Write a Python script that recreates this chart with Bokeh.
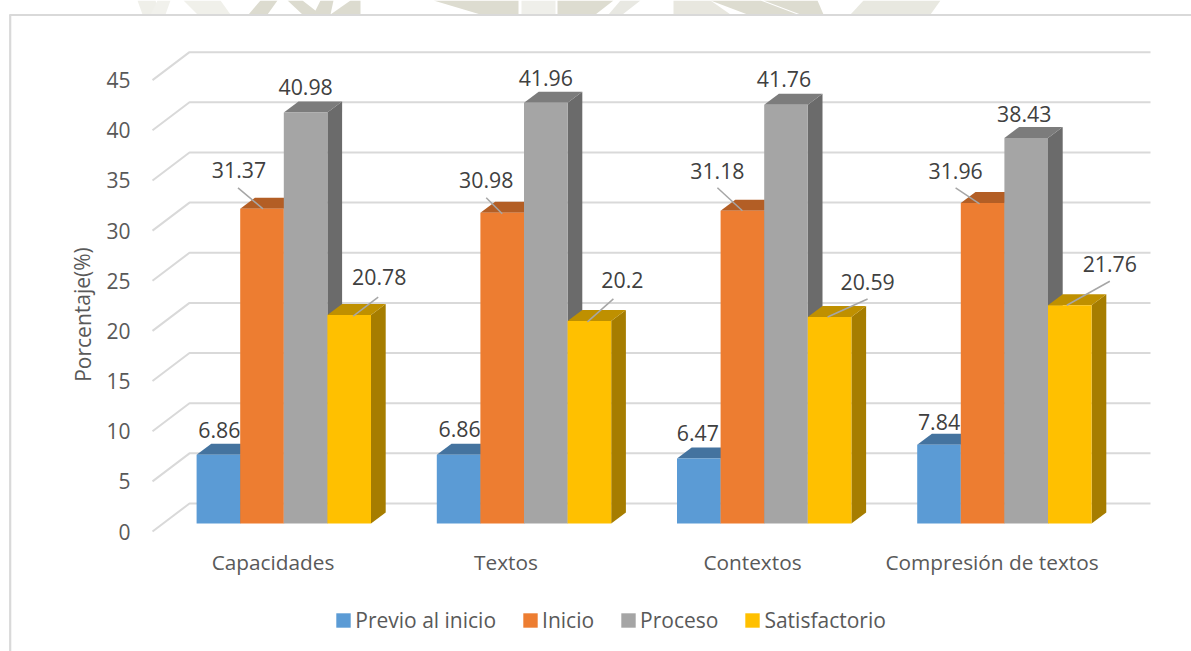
from bokeh.plotting import figure
from bokeh.embed import file_html
from bokeh.resources import INLINE
from bokeh.models import Range1d, FixedTicker, ColumnDataSource, Legend, LegendItem
from bokeh.core.properties import value

# ---------- data ----------
categories = ["Capacidades", "Textos", "Contextos", "Compresión de textos"]
series_names = ["Previo al inicio", "Inicio", "Proceso", "Satisfactorio"]
previo = [6.86, 6.86, 6.47, 7.84]
inicio = [31.37, 30.98, 31.18, 31.96]
proceso = [40.98, 41.96, 41.76, 38.43]
satisfactorio = [20.78, 20.2, 20.59, 21.76]
y_ticks = [0, 5, 10, 15, 20, 25, 30, 35, 40, 45]

# ---------- style ----------
front = ["#5b9bd5", "#ed7d31", "#a5a5a5", "#ffc000"]
top_c = ["#44739f", "#b35e25", "#7c7c7c", "#bf9000"]
side_c = ["#396186", "#9a5120", "#6b6b6b", "#a67d00"]
GRID = "#d9d9d9"
FONT = "Open Sans"
series = [previo, inicio, proceso, satisfactorio]

# ---------- layout (screen scale of the two axes) ----------
W, H = 1191, 651
PX_X, PX_Y = 240.2, 10.03     # px per group, px per percentage point
X0_PX, Y0_PX = 283.3, 531.0   # px of group 0 centre / of value 0 on the front plane
X = lambda px: (px - X0_PX) / PX_X
Y = lambda py: (Y0_PX - py) / PX_Y
DX = lambda px: px / PX_X
DY = lambda px: px / PX_Y

bar_w = DX(43.6)
plane_y = DY(8.0)                      # bars stand this far behind the front edge
depth_x, depth_y = DX(14.7), DY(11.0)  # bar depth
wall_x, wall_y = DX(37.0), DY(28.0)    # wall depth

p = figure(width=W, height=H, output_backend="svg", toolbar_location=None,
           x_range=Range1d(X(0), X(W)), y_range=Range1d(Y(H), Y(0)),
           min_border_left=0, min_border_right=0, min_border_top=0, min_border_bottom=0)
p.outline_line_color = None
p.grid.visible = False
p.background_fill_color = "white"
p.border_fill_color = "white"

# watermark remnant above the chart box (x at top edge left/right, bottom edge right/left)
wm = [
    (137, 155, 160, 142, "#efefe9"), (157, 170, 165, 150, "#f1f1ec"), (183, 220, 230, 197, "#f0f0ea"),
    (260, 277, 267, 248, "#dcdbcf"), (287, 302, 320, 302, "#dcdbcf"), (320, 333, 330, 313, "#dcdbcf"),
    (350, 360, 360, 330, "#dcdbcf"), (433, 518, 518, 480, "#dddcd0"), (521, 555, 555, 521, "#efefea"),
    (557, 613, 595, 557, "#dddcd0"), (620, 640, 622, 608, "#e8e8e2"), (673, 710, 730, 673, "#e8e7df"),
    (710, 760, 797, 747, "#dddcd0"), (763, 817, 823, 800, "#dddcd0"), (863, 940, 930, 850, "#e8e8e0"),
]
p.patches([[X(a), X(b), X(c), X(d)] for a, b, c, d, _ in wm],
          [[Y(0), Y(0), Y(14), Y(14)] for _ in wm],
          fill_color=[w[4] for w in wm], line_color=None)

# chart box (top and left edges only)
p.line([X(9), X(W)], [Y(14.5), Y(14.5)], line_color="#d9d9d9", line_width=2)
p.line([X(9.7), X(9.7)], [Y(14), Y(H)], line_color="#d9d9d9", line_width=2.2)

# wall gridlines
gx, gy = [], []
x_l, x_b, x_r = X(152), X(152) + wall_x, X(1150)
for t in y_ticks:
    gx.append([x_l, x_b, x_r])
    gy.append([t, t + wall_y, t + wall_y])
p.multi_line(gx, gy, line_color=GRID, line_width=2)

# 3D bars
legend_items = []
for j, vals in enumerate(series):
    left = [i + (j - 2) * bar_w for i in range(4)]
    right = [l + bar_w for l in left]
    side_xs = [[r, r + depth_x, r + depth_x, r] for r in right]
    side_ys = [[plane_y, plane_y + depth_y, v + plane_y + depth_y, v + plane_y] for v in vals]
    p.patches(side_xs, side_ys, fill_color=side_c[j], line_color=None)
    top_xs = [[l, l + depth_x, r + depth_x, r] for l, r in zip(left, right)]
    top_ys = [[v + plane_y, v + plane_y + depth_y, v + plane_y + depth_y, v + plane_y] for v in vals]
    p.patches(top_xs, top_ys, fill_color=top_c[j], line_color=None)
    q = p.quad(left=left, right=right, bottom=plane_y, top=[v + plane_y for v in vals],
               fill_color=front[j], line_color=None)
    legend_items.append(LegendItem(label=series_names[j], renderers=[q]))

# data labels: offset (px) of the label centre from the centre of the bar's front top edge
label_off = [
    [(1, -25), (1, -26), (-1, -26), (0, -23)],
    [(-23, -39), (-16, -33), (-25, -40), (-27, -32)],
    [(0, -25), (0, -25), (-2, -26), (-2, -24)],
    [(30, -38), (33, -41), (38, -35), (40, -41)],
]
# leader lines: (label-side dx, dy, bar-side dx, dy) px from the same reference point
leaders = {
    (1, 0): (-24, -21, 1, 0), (1, 1): (-16, -15, 0, 1), (1, 2): (-25, -23, 0, 0), (1, 3): (-27, -15, -3, 1),
    (3, 0): (29, -18, 4, 1), (3, 1): (24, -22, -2, 1), (3, 2): (38, -18, -2, 0), (3, 3): (40, -24, -3, 0),
}
lx0, ly0, lx1, ly1 = [], [], [], []
tx, ty, txt, xo, yo = [], [], [], [], []
for j, vals in enumerate(series):
    for i, v in enumerate(vals):
        c = i + (j - 1.5) * bar_w
        tp = v + plane_y
        tx.append(c); ty.append(tp); txt.append(f"{v:g}")
        xo.append(label_off[j][i][0]); yo.append(label_off[j][i][1])
        if (j, i) in leaders:
            a, b, d, e = leaders[(j, i)]
            lx0.append(c + DX(a)); ly0.append(tp - DY(b))
            lx1.append(c + DX(d)); ly1.append(tp - DY(e))
p.segment(lx0, ly0, lx1, ly1, line_color="#a6a6a6", line_width=1.5)
p.text(x="x", y="y", text="t", x_offset="xo", y_offset="yo",
       source=ColumnDataSource(dict(x=tx, y=ty, t=txt, xo=xo, yo=yo)),
       text_font=value(FONT), text_font_size="21.3px", text_color="#404040",
       text_align="center", text_baseline="middle")

# y axis title
p.text(x=[X(82)], y=[Y(314)], text=["Porcentaje(%)"], angle=1.5708,
       text_font=value(FONT), text_font_size="21px", text_color="#595959",
       text_align="center", text_baseline="middle")

# axes, fixed inside the full-page frame
ya = p.yaxis[0]
ya.fixed_location = X(152)
ya.ticker = FixedTicker(ticks=y_ticks)
ya.axis_line_color = None
ya.major_tick_line_color = None
ya.minor_tick_line_color = None
ya.major_tick_out = 0
ya.major_label_text_font = FONT
ya.major_label_text_font_size = "21px"
ya.major_label_text_color = "#595959"
ya.major_label_standoff = 22

xa = p.xaxis[0]
xa.fixed_location = 0
cat_ticks = [X(v) for v in (272.5, 505.5, 752, 991.5)]
xa.ticker = FixedTicker(ticks=cat_ticks)
xa.major_label_overrides = {t: c for t, c in zip(cat_ticks, categories)}
xa.axis_line_color = None
xa.major_tick_line_color = None
xa.minor_tick_line_color = None
xa.major_tick_out = 0
xa.major_label_text_font = FONT
xa.major_label_text_font_size = "20.8px"
xa.major_label_text_color = "#595959"
xa.major_label_standoff = 16

legend = Legend(items=legend_items, orientation="horizontal", location=(334.25, 17),
                glyph_width=18, glyph_height=18, label_standoff=3, spacing=25,
                padding=0, margin=0, border_line_color=None, background_fill_alpha=0,
                label_text_font=FONT, label_text_font_size="21px", label_text_color="#595959")
p.add_layout(legend, "center")

open("out.html", "w").write(file_html(p, INLINE))
